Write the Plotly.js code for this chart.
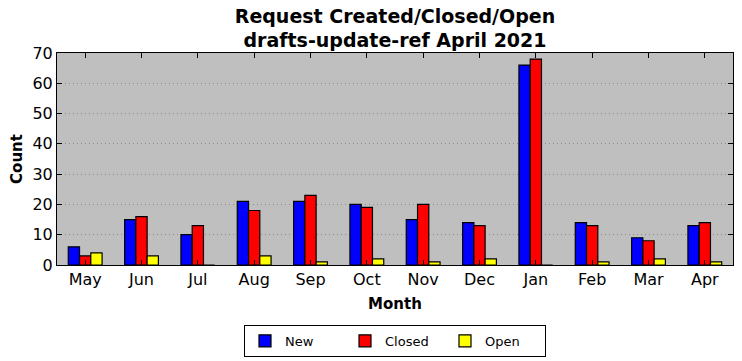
<!DOCTYPE html>
<html><head><meta charset="utf-8">
<script src="https://cdn.plot.ly/plotly-3.0.1.min.js"></script>
<style>html,body{margin:0;padding:0;background:#fff}#c{width:742px;height:361px}</style>
</head><body><div id="c"></div>
<script>
const months = ["May","Jun","Jul","Aug","Sep","Oct","Nov","Dec","Jan","Feb","Mar","Apr"];
const newCounts = [6,15,10,21,21,20,15,14,66,14,9,13];
const closedCounts = [3,16,13,18,23,19,20,13,68,13,8,14];
const openCounts = [4,3,0,3,1,2,1,2,0,1,2,1];
const seriesNames = ["New","Closed","Open"];
const seriesColors = ["#0000ff","#ff0000","#ffff00"];
const values = [newCounts, closedCounts, openCounts];
const traces = values.map((v,i)=>({
  type:"bar", x:months, y:v, name:seriesNames[i],
  marker:{color:seriesColors[i], line:{color:"#000", width:1.2}}
}));
const F = "DejaVu Sans, sans-serif";
Plotly.newPlot("c", traces, {
  width:742, height:361,
  margin:{l:57, r:9, t:53, b:96, autoexpand:false},
  paper_bgcolor:"#fff", plot_bgcolor:"#bfbfbf",
  barmode:"group", bargap:0.4, bargroupgap:0,
  font:{family:F, size:16, color:"#000"},
  title:{text:"<b>Request Created/Closed/Open<br>drafts-update-ref April 2021</b>", font:{family:F,size:19}, xref:"paper", x:0.5, xanchor:"center", yref:"container", y:0.937, yanchor:"top", automargin:false},
  xaxis:{title:{text:"<b>Month</b>", font:{size:15}, standoff:10}, tickfont:{size:16}, showline:true, linecolor:"#000", linewidth:1, mirror:"ticks", ticks:"inside", ticklen:5, tickcolor:"#000", showgrid:false, range:[-0.5,11.5]},
  yaxis:{title:{text:"<b>Count</b>", font:{size:15}, standoff:6}, tickfont:{size:16}, range:[0,70], dtick:10, showline:true, linecolor:"#000", linewidth:1, mirror:"ticks", ticks:"inside", ticklen:5, tickcolor:"#000", showgrid:true, gridcolor:"#8c8c8c", griddash:"1px,3px", gridwidth:1, zeroline:false},
  showlegend:true,
  legend:{orientation:"h", xref:"paper", x:0.5, xanchor:"center", yref:"container", y:0.1, yanchor:"top", bordercolor:"#000", borderwidth:1, font:{size:13}, bgcolor:"#fff", entrywidth:55, entrywidthmode:"pixels"}
}, {staticPlot:true});
</script></body></html>
